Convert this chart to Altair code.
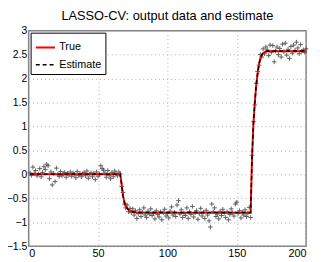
import altair as alt
import pandas as pd

# ---- data ----
data_seg1 = [0.03, -0.02, 0.15, 0.02, 0.08, -0.03, 0.01, 0.12, -0.05, 0.04,
             0.16, 0.10, 0.21, 0.18, -0.09, 0.05, -0.22, 0.02, -0.15, 0.13,
             0.00, -0.04, 0.06, -0.03, 0.01, 0.04, -0.06, 0.02, -0.01, 0.05,
             -0.04, 0.03, 0.00, -0.07, 0.06, -0.02, 0.02, -0.05, 0.01, 0.04,
             -0.03, 0.07, -0.08, 0.00, 0.03, -0.05, 0.02, -0.11, 0.05, -0.04,
             0.01, 0.18, 0.12, 0.09, 0.03, -0.06, 0.08, -0.02, -0.09, 0.04,
             -0.05, 0.07, 0.02, -0.03, 0.05, 0.01]
data_drop = [-0.25, -0.38, -0.62, -0.70, -0.64, -0.78, -0.71, -0.80, -0.72, -0.85, -0.76, -0.92]
data_seg2 = [-0.82, -0.74, -0.88, -0.79, -0.70, -0.85, -0.90, -0.77, -0.83, -0.72,
             -0.86, -0.81, -0.93, -0.76, -0.84, -0.89, -0.78, -0.95, -0.80, -0.73,
             -0.87, -0.82, -0.91, -0.77, -0.68, -0.85, -0.79, -0.88, -0.64, -0.55,
             -0.83, -0.74, -0.90, -0.81, -0.86, -0.70, -0.92, -0.78, -0.84, -0.67,
             -0.89, -0.80, -0.76, -0.94, -0.82, -0.71, -0.87, -0.79, -0.92, -0.75,
             -0.85, -0.97, -1.10, -0.62, -0.78, -0.70, -0.88, -0.83, -0.93, -0.77,
             -0.86, -0.73, -0.81, -0.90, -0.78, -0.95, -0.84, -0.72, -0.80, -0.87,
             -0.62, -0.58, -0.82, -0.76, -0.91, -0.79, -0.85, -0.74, -0.88, -0.81,
             -0.69, -0.90]
data_rise = [0.40, 1.10, 1.45, 1.90, 2.15, 2.28, 2.50, 2.45, 2.62, 2.52, 2.66]
data_seg3 = [2.60, 2.48, 2.70, 2.55, 2.69, 2.35, 2.58, 2.66, 2.50, 2.63,
             2.45, 2.72, 2.56, 2.74, 2.49, 2.61, 2.42, 2.67, 2.53, 2.70,
             2.59, 2.76, 2.64, 2.52, 2.71, 2.57, 2.60, 2.55, 2.62]

true_vals = ([0.0] * 66
             + [-0.20, -0.45, -0.58, -0.66, -0.71, -0.74, -0.76, -0.77, -0.78, -0.79, -0.79, -0.80]
             + [-0.80] * 82
             + [0.35, 1.05, 1.50, 1.85, 2.10, 2.30, 2.42, 2.49, 2.53, 2.55, 2.56]
             + [2.57] * 29)
est_vals = ([0.005] * 66
            + [-0.21, -0.45, -0.58, -0.66, -0.71, -0.74, -0.76, -0.77, -0.78, -0.785, -0.79, -0.795]
            + [-0.795] * 82
            + [0.33, 1.04, 1.49, 1.85, 2.10, 2.30, 2.42, 2.49, 2.53, 2.55, 2.565]
            + [2.575] * 29)

data_vals = data_seg1 + data_drop + data_seg2 + data_rise + data_seg3
t = list(range(1, 201))

pts = pd.DataFrame({"t": t, "y": data_vals})
lines = pd.DataFrame({
    "t": t + t,
    "y": true_vals + est_vals,
    "series": ["True"] * 200 + ["Estimate"] * 200,
})

x = alt.X("t:Q", scale=alt.Scale(domain=[0, 200], nice=False),
          axis=alt.Axis(values=[0, 50, 100, 150, 200], format="d", title=None,
                        labelFontSize=11, labelPadding=2))
y = alt.Y("y:Q", scale=alt.Scale(domain=[-1.5, 3], nice=False, zero=False),
          axis=alt.Axis(values=[-1.5, -1, -0.5, 0, 0.5, 1, 1.5, 2, 2.5, 3], format="~g", title=None,
                        labelFontSize=10.5, labelPadding=2))

dom = ["True", "Estimate"]
leg = dict(title=None, orient="none", legendX=2, legendY=2)
color = alt.Color("series:N", scale=alt.Scale(domain=dom, range=["#ff0000", "#000000"]),
                  legend=alt.Legend(**leg))
dash = alt.StrokeDash("series:N", scale=alt.Scale(domain=dom, range=[[1, 0], [4, 3]]),
                      legend=alt.Legend(**leg))
sw = alt.StrokeWidth("series:N", scale=alt.Scale(domain=dom, range=[2, 1.5]),
                     legend=alt.Legend(**leg))

plus = "M-1,0H1M0,-1V1"
points = alt.Chart(pts).mark_point(shape=plus, size=22, filled=False, color="#444444",
                                   strokeWidth=1, opacity=0.85).encode(x=x, y=y)

true_line = alt.Chart(lines).transform_filter(alt.datum.series == "True").mark_line(
    interpolate="linear").encode(x=x, y=y, color=color, strokeDash=dash, strokeWidth=sw)
est_line = alt.Chart(lines).transform_filter(alt.datum.series == "Estimate").mark_line(
    interpolate="linear").encode(x=x, y=y, color=color, strokeDash=dash, strokeWidth=sw)

chart = alt.layer(points, true_line, est_line).properties(
    width=282, height=219,
    title=alt.TitleParams("LASSO-CV: output data and estimate", fontSize=13,
                          font="Liberation Sans", fontWeight="normal", offset=3,
                          anchor="middle", color="#000000"),
    autosize=alt.AutoSizeParams(type="none"),
    padding={"left": 21, "top": 21, "right": 8, "bottom": 14},
).configure_view(
    stroke="#808080", strokeWidth=1.5
).configure_axis(
    domain=False, ticks=False,
    grid=True, gridColor="#b0b0b0", gridDash=[1, 3], gridWidth=1,
    labelFont="Liberation Sans", labelColor="#000000",
).configure_legend(
    fillColor="#ffffff", strokeColor="#000000", padding=4, cornerRadius=0,
    symbolType="stroke", symbolSize=380, labelFont="Liberation Sans",
    labelFontSize=11, labelColor="#000000", rowPadding=2, labelOffset=3,
)

chart.save("out.html", embed_options={"renderer": "svg", "actions": False})
